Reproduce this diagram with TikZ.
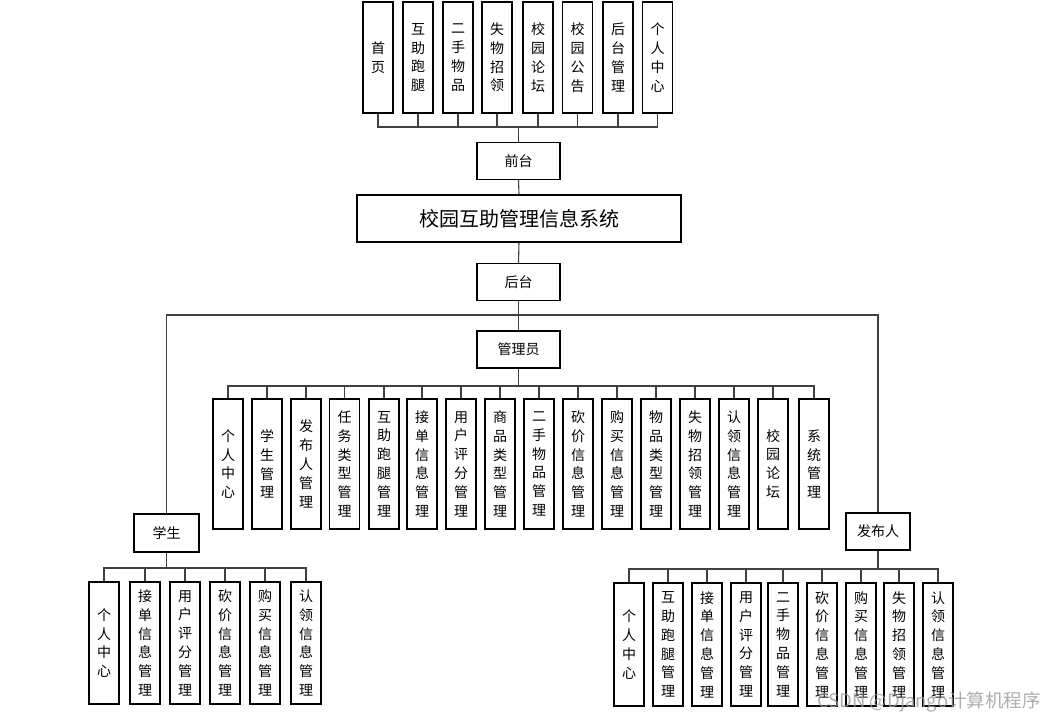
\documentclass[tikz,border=0pt]{standalone}
\usepackage{fontspec}
\newfontfamily\cjk{Noto Sans CJK SC}
\begin{document}
\begin{tikzpicture}[x=1pt,y=-1pt,
  box/.style={draw=black,line width=1.1pt,fill=white,inner sep=0pt,font=\cjk\fontsize{14}{18}\selectfont},
  vbox/.style={box,minimum width=30pt,align=center,font=\cjk\fontsize{14}{18.8}\selectfont},
  hbox/.style={box,minimum width=83pt,minimum height=37pt},
  conn/.style={line width=1.1pt,draw=black!75}]
\useasboundingbox (0,0) rectangle (1061,723);
% top row
\foreach \n/\x/\t in {t1/378/{首\\页},t2/418/{互\\助\\跑\\腿},t3/458/{二\\手\\物\\品},t4/497/{失\\物\\招\\领},t5/538/{校\\园\\论\\坛},t6/577.5/{校\\园\\公\\告},t7/618/{后\\台\\管\\理},t8/657.5/{个\\人\\中\\心}}
  \node[vbox,minimum height=111pt] (\n) at (\x,57.5) {\t};
\node[hbox] (qt) at (518.5,161) {前台};
\node[box,minimum width=324pt,minimum height=47pt,font=\cjk\fontsize{20}{24}\selectfont] (sys) at (519,218.5) {校园互助管理信息系统};
\node[hbox] (ht) at (518.5,282) {后台};
\node[hbox] (adm) at (518.5,349.5) {管理员};
\node[box,minimum width=65pt,minimum height=38pt] (stu) at (166.5,533) {学生};
\node[box,minimum width=64pt,minimum height=37pt] (pub) at (878,531.5) {发布人};
% admin children
\foreach \n/\x/\t in {a1/228/{个\\人\\中\\心},a2/267/{学\\生\\管\\理},a3/306/{发\\布\\人\\管\\理},a4/344.5/{任\\务\\类\\型\\管\\理},a5/384/{互\\助\\跑\\腿\\管\\理},a6/422/{接\\单\\信\\息\\管\\理},a7/461/{用\\户\\评\\分\\管\\理},a8/500/{商\\品\\类\\型\\管\\理},a9/539/{二\\手\\物\\品\\管\\理},a10/578/{砍\\价\\信\\息\\管\\理},a11/617/{购\\买\\信\\息\\管\\理},a12/656/{物\\品\\类\\型\\管\\理},a13/695/{失\\物\\招\\领\\管\\理},a14/734/{认\\领\\信\\息\\管\\理},a15/773/{校\\园\\论\\坛},a16/814/{系\\统\\管\\理}}
  \node[vbox,minimum height=130pt] (\n) at (\x,464) {\t};
% student children
\foreach \n/\x/\t in {s1/104/{个\\人\\中\\心},s2/145/{接\\单\\信\\息\\管\\理},s3/185/{用\\户\\评\\分\\管\\理},s4/225/{砍\\价\\信\\息\\管\\理},s5/265/{购\\买\\信\\息\\管\\理},s6/306/{认\\领\\信\\息\\管\\理}}
  \node[vbox,minimum height=122pt] (\n) at (\x,643) {\t};
% publisher children
\foreach \n/\x/\t in {p1/629/{个\\人\\中\\心},p2/668/{互\\助\\跑\\腿\\管\\理},p3/707/{接\\单\\信\\息\\管\\理},p4/746/{用\\户\\评\\分\\管\\理},p5/783/{二\\手\\物\\品\\管\\理},p6/822/{砍\\价\\信\\息\\管\\理},p7/861/{购\\买\\信\\息\\管\\理},p8/899/{失\\物\\招\\领\\管\\理},p9/938/{认\\领\\信\\息\\管\\理}}
  \node[vbox,minimum height=123pt] (\n) at (\x,644.5) {\t};
% bus coordinates
\coordinate (tb) at (518.5,127);
\coordinate (hb) at (518.5,315);
\coordinate (ab) at (518.5,386);
\coordinate (sb) at (166.5,568);
\coordinate (pb) at (878,569);
% connectors
\foreach \n in {t1,t2,t3,t4,t5,t6,t7,t8} \draw[conn] (\n.south) |- (tb);
\draw[conn] (tb) -- (qt.north);
\draw[conn] (qt.south) -- (sys.north);
\draw[conn] (sys.south) -- (ht.north);
\draw[conn] (ht.south) -- (adm.north);
\draw[conn] (hb) -| (stu.north);
\draw[conn] (hb) -| (pub.north);
\draw[conn] (adm.south) -- (ab);
\foreach \n in {a1,a2,a3,a4,a5,a6,a7,a8,a9,a10,a11,a12,a13,a14,a15,a16} \draw[conn] (\n.north) |- (ab);
\draw[conn] (stu.south) -- (sb);
\foreach \n in {s1,s2,s3,s4,s5,s6} \draw[conn] (\n.north) |- (sb);
\draw[conn] (pub.south) -- (pb);
\foreach \n in {p1,p2,p3,p4,p5,p6,p7,p8,p9} \draw[conn] (\n.north) |- (pb);
% watermark
\node[text=black!40,opacity=0.8,font=\cjk\fontsize{18.5}{20}\selectfont,inner sep=0pt] (wm) at (929,702) {CSDN @Django计算机程序};
\end{tikzpicture}
\end{document}
